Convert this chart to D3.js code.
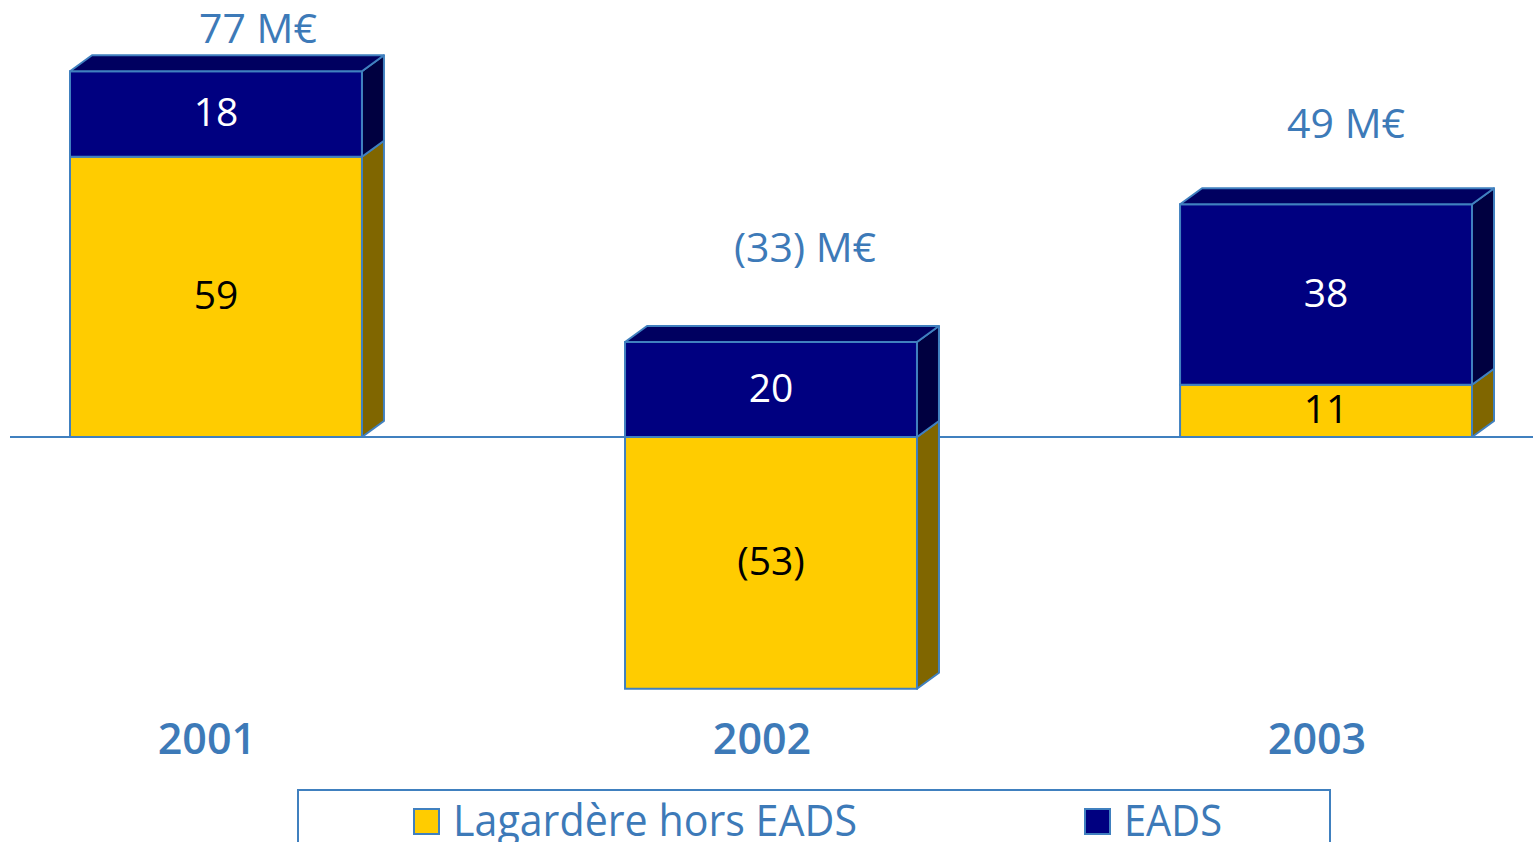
<!DOCTYPE html>
<html>
<head>
<meta charset="utf-8">
<script src="https://cdn.jsdelivr.net/npm/d3@7/dist/d3.min.js"></script>
<style>
  body { margin: 0; background: #fff; }
  svg { display: block; }
</style>
</head>
<body>
<div id="chart"></div>
<script>
// data
var years = ["2001", "2002", "2003"];
var lagardere = [59, -53, 11];
var eads = [18, 20, 38];
var totals = ["77 M€", "(33) M€", "49 M€"];
var valueLabels = [["59", "(53)", "11"], ["18", "20", "38"]];
var seriesNames = ["Lagardère hors EADS", "EADS"];

var width = 1533, height = 842;
var depthX = 22, depthY = -16;
var outline = "#4080BF";
var textBlue = "#3D7AB8";
var front = ["#FFCC00", "#000080"];
var side = ["#806600", "#000040"];
var topFace = ["#B38F00", "#000060"];

var svg = d3.select("#chart").append("svg")
  .attr("width", width)
  .attr("height", height);

var x = d3.scaleBand()
  .domain(years)
  .range([70, 1472])
  .paddingInner(0.474)
  .paddingOuter(0);

var y = d3.scaleLinear()
  .domain([-60, 80])
  .range([437 + 60 * 4.75, 437 - 80 * 4.75]);

var table = years.map(function(yr, i) {
  return { year: yr, lag: lagardere[i], eads: eads[i] };
});
var stack = d3.stack()
  .keys(["lag", "eads"])
  .offset(d3.stackOffsetDiverging);
var series = stack(table);

// baseline
svg.append("line")
  .attr("x1", 10).attr("x2", width)
  .attr("y1", y(0)).attr("y2", y(0))
  .attr("stroke", outline).attr("stroke-width", 2);

var bw = x.bandwidth();

years.forEach(function(yr, i) {
  var g = svg.append("g");
  var x0 = x(yr);
  var topY = y(0);
  series.forEach(function(s, k) {
    var d = s[i];
    var yTop = y(Math.max(d[0], d[1]));
    var yBot = y(Math.min(d[0], d[1]));
    topY = Math.min(topY, yTop);
    // side face
    g.append("path")
      .attr("d", "M" + (x0 + bw) + "," + yTop +
        " L" + (x0 + bw + depthX) + "," + (yTop + depthY) +
        " L" + (x0 + bw + depthX) + "," + (yBot + depthY) +
        " L" + (x0 + bw) + "," + yBot + " Z")
      .attr("fill", side[k])
      .attr("stroke", outline).attr("stroke-width", 2)
      .attr("stroke-linejoin", "round");
    // front face
    g.append("rect")
      .attr("x", x0).attr("y", yTop)
      .attr("width", bw).attr("height", yBot - yTop)
      .attr("fill", front[k])
      .attr("stroke", outline).attr("stroke-width", 2);
    g.append("text")
      .attr("x", x0 + bw / 2)
      .attr("y", (yTop + yBot) / 2)
      .attr("dy", "0.32em")
      .attr("text-anchor", "middle")
      .attr("font-family", "'Open Sans', sans-serif")
      .attr("font-weight", 500)
      .attr("font-size", 39)
      .attr("fill", k === 0 ? "#000" : "#fff")
      .text(valueLabels[k][i]);
  });
  // top face
  g.append("path")
    .attr("d", "M" + x0 + "," + topY +
      " L" + (x0 + depthX) + "," + (topY + depthY) +
      " L" + (x0 + bw + depthX) + "," + (topY + depthY) +
      " L" + (x0 + bw) + "," + topY + " Z")
    .attr("fill", topFace[1])
    .attr("stroke", outline).attr("stroke-width", 2)
    .attr("stroke-linejoin", "round");
});

// total labels
var totalOffsets = [[42, -28], [34, -80], [20, -66]];
years.forEach(function(yr, i) {
  var top = y(Math.max(0, lagardere[i]) + eads[i]);
  svg.append("text")
    .attr("x", x(yr) + bw / 2 + totalOffsets[i][0])
    .attr("y", top + totalOffsets[i][1])
    .attr("text-anchor", "middle")
    .attr("font-family", "'Open Sans', sans-serif")
    .attr("font-weight", 500)
    .attr("font-size", 41)
    .attr("fill", textBlue)
    .text(totals[i]);
});

// year labels
svg.selectAll(".year")
  .data(years)
  .enter().append("text")
  .attr("class", "year")
  .attr("x", function(d) { return x(d) + bw / 2 - 9; })
  .attr("y", 754)
  .attr("text-anchor", "middle")
  .attr("font-family", "'Open Sans', sans-serif")
  .attr("font-weight", 600)
  .attr("font-size", 43)
  .attr("fill", textBlue)
  .text(function(d) { return d; });

// legend
var legend = svg.append("g");
legend.append("rect")
  .attr("x", 298).attr("y", 790)
  .attr("width", 1032).attr("height", 80)
  .attr("fill", "none")
  .attr("stroke", outline).attr("stroke-width", 2);
var legendX = [414, 1085];
var legendLen = [404, 98];
seriesNames.forEach(function(name, k) {
  legend.append("rect")
    .attr("x", legendX[k]).attr("y", 809)
    .attr("width", 25).attr("height", 25)
    .attr("fill", front[k])
    .attr("stroke", outline).attr("stroke-width", 2);
  legend.append("text")
    .attr("x", legendX[k] + 39)
    .attr("y", 836)
    .attr("font-family", "'Open Sans', sans-serif")
    .attr("font-size", 44)
    .attr("textLength", legendLen[k])
    .attr("lengthAdjust", "spacingAndGlyphs")
    .attr("fill", textBlue)
    .text(name);
});
</script>
</body>
</html>
